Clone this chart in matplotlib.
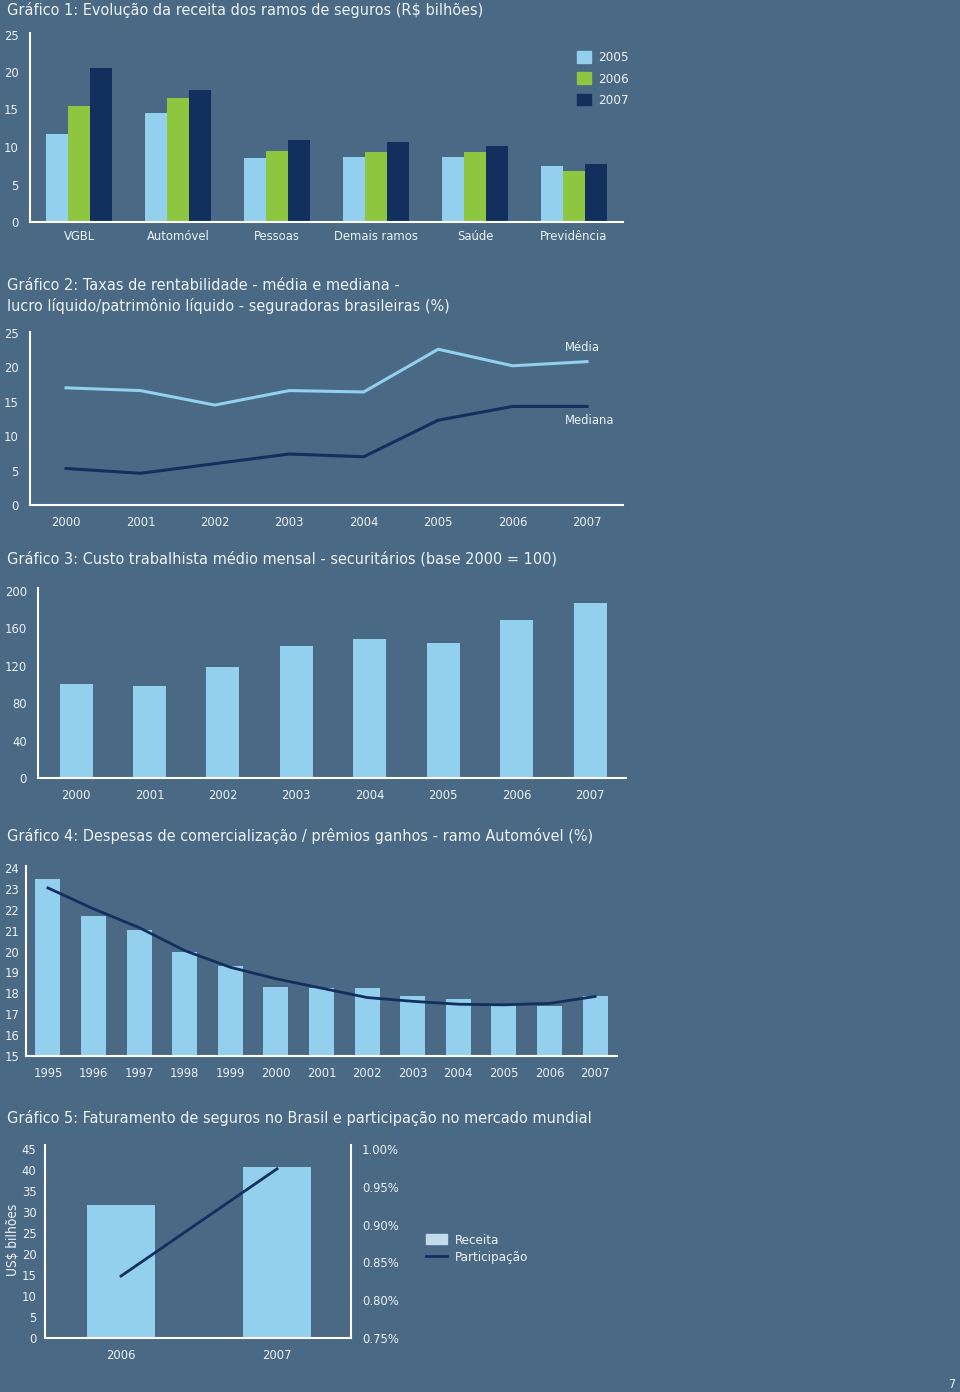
import numpy as np
import matplotlib.pyplot as plt
from matplotlib.patches import Patch
from matplotlib.lines import Line2D

plt.rcParams['font.family'] = ['DejaVu Sans']
plt.rcParams['font.stretch'] = 'condensed'

# ---- data ----
ramos = ['VGBL', 'Automóvel', 'Pessoas', 'Demais ramos', 'Saúde', 'Previdência']
anos1 = ['2005', '2006', '2007']
rec2005 = [11.7, 14.5, 8.5, 8.7, 8.7, 7.5]
rec2006 = [15.5, 16.5, 9.5, 9.3, 9.3, 6.8]
rec2007 = [20.5, 17.6, 10.9, 10.7, 10.2, 7.8]

anos2 = ['2000', '2001', '2002', '2003', '2004', '2005', '2006', '2007']
media = [17.0, 16.6, 14.5, 16.6, 16.4, 22.6, 20.2, 20.8]
mediana = [5.3, 4.6, 6.0, 7.4, 7.0, 12.3, 14.3, 14.3]

anos3 = ['2000', '2001', '2002', '2003', '2004', '2005', '2006', '2007']
custo = [100, 98, 119, 141, 148, 144, 169, 187]

anos4 = ['1995', '1996', '1997', '1998', '1999', '2000', '2001', '2002',
         '2003', '2004', '2005', '2006', '2007']
despesas = [23.5, 21.7, 21.05, 20.0, 19.3, 18.3, 18.25, 18.25, 17.85, 17.75, 17.45, 17.4, 17.85]
tendencia = [23.05, 22.05, 21.15, 20.05, 19.25, 18.7, 18.25, 17.8, 17.62, 17.48, 17.45, 17.52, 17.85]

anos5 = ['2006', '2007']
receita5 = [31.6, 40.8]
particip = [0.832, 0.974]

# ---- style ----
bg = '#4a6985'
light = '#92d0ee'
green = '#8dc63f'
navy = '#12305e'
txt = '#eef3f7'
W, H = 960, 1392
fs = 9.3
tfs = 11.6

fig = plt.figure(figsize=(W / 100, H / 100), dpi=100, facecolor=bg)


def rect(l, t, r, b):
    return [l / W, 1 - b / H, (r - l) / W, (b - t) / H]


def style(ax):
    ax.set_facecolor(bg)
    for s in ['top', 'right']:
        ax.spines[s].set_visible(False)
    for s in ['left', 'bottom']:
        ax.spines[s].set_color('white')
        ax.spines[s].set_linewidth(1.5)
    ax.tick_params(length=0, colors=txt, labelsize=fs, pad=8)


def title(y, s):
    fig.text(7 / W, 1 - y / H, s, color=txt, fontsize=tfs, va='center', ha='left')


# Grafico 1
title(10, 'Gráfico 1: Evolução da receita dos ramos de seguros (R$ bilhões)')
ax1 = fig.add_axes(rect(30, 33, 623, 222))
style(ax1)
x = np.arange(len(ramos))
w = 0.222
ax1.bar(x - w, rec2005, w, color=light)
ax1.bar(x, rec2006, w, color=green)
ax1.bar(x + w, rec2007, w, color=navy)
ax1.set_xlim(-0.495, 5.495)
ax1.set_ylim(0, 25.2)
ax1.set_yticks([0, 5, 10, 15, 20, 25])
ax1.set_xticks(x)
ax1.set_xticklabels(ramos)
ax1.tick_params(axis='x', pad=6)
ax1.legend(handles=[Patch(color=c, label=l) for c, l in zip([light, green, navy], anos1)],
           loc='upper left', bbox_to_anchor=(565 / W, 1 - 39 / H), bbox_transform=fig.transFigure,
           frameon=False, handlelength=1.05, handleheight=0.95, handletextpad=0.5,
           labelspacing=0.6, labelcolor=txt, fontsize=9.6)

# Grafico 2
fig.text(7 / W, 1 - 285 / H, 'Gráfico 2: Taxas de rentabilidade - média e mediana -',
         color=txt, fontsize=tfs, va='center')
fig.text(7 / W, 1 - 306 / H, 'lucro líquido/patrimônio líquido - seguradoras brasileiras (%)',
         color=txt, fontsize=tfs, va='center')
ax2 = fig.add_axes(rect(30, 332, 623, 505))
style(ax2)
x2 = np.arange(len(anos2))
ax2.plot(x2, media, color=light, lw=2.2)
ax2.plot(x2, mediana, color=navy, lw=2.2)
ax2.set_xlim(-0.484, 7.484)
ax2.set_ylim(0, 25.1)
ax2.set_yticks([0, 5, 10, 15, 20, 25])
ax2.set_xticks(x2)
ax2.set_xticklabels(anos2)
ax2.text(6.94, 22.8, 'Média', color=txt, fontsize=fs, ha='center', va='center')
ax2.text(7.03, 12.3, 'Mediana', color=txt, fontsize=fs, ha='center', va='center')

# Grafico 3
title(559, 'Gráfico 3: Custo trabalhista médio mensal - securitários (base 2000 = 100)')
ax3 = fig.add_axes(rect(38, 588, 626, 778))
style(ax3)
x3 = np.arange(len(anos3))
ax3.bar(x3, custo, 0.45, color=light)
ax3.set_xlim(-0.518, 7.49)
ax3.set_ylim(0, 203)
ax3.set_yticks([0, 40, 80, 120, 160, 200])
ax3.set_xticks(x3)
ax3.set_xticklabels(anos3)

# Grafico 4
title(836, 'Gráfico 4: Despesas de comercialização / prêmios ganhos - ramo Automóvel (%)')
ax4 = fig.add_axes(rect(26, 866, 617, 1056))
style(ax4)
ax4.tick_params(axis='y', pad=5)
x4 = np.arange(len(anos4))
ax4.bar(x4, np.array(despesas) - 15, 0.55, bottom=15, color=light)
ax4.plot(x4, tendencia, color=navy, lw=2)
ax4.set_xlim(-0.48, 12.48)
ax4.set_ylim(15, 24.1)
ax4.set_yticks(range(15, 25))
ax4.set_xticks(x4)
ax4.set_xticklabels(anos4)

# Grafico 5
title(1118, 'Gráfico 5: Faturamento de seguros no Brasil e participação no mercado mundial')
ax5 = fig.add_axes(rect(45, 1145, 351, 1338))
style(ax5)
ax5.tick_params(axis='y', pad=6)
x5 = np.arange(len(anos5))
ax5.bar(x5, receita5, 0.44, color=light)
ax5.set_xlim(-0.487, 1.474)
ax5.set_ylim(0, 46)
ax5.set_yticks(range(0, 46, 5))
ax5.set_xticks(x5)
ax5.set_xticklabels(anos5)
ax5.set_ylabel('US$ bilhões', color=txt, fontsize=fs + 0.5)
ax5.yaxis.set_label_coords(20 / W, 1 - 1240 / H, transform=fig.transFigure)
ax5b = ax5.twinx()
ax5b.plot(x5, particip, color=navy, lw=2)
ax5b.set_ylim(0.75, 0.75 + 0.25 * 46 / 45)
ax5b.set_yticks([0.75, 0.80, 0.85, 0.90, 0.95, 1.00])
ax5b.set_yticklabels(['0.75%', '0.80%', '0.85%', '0.90%', '0.95%', '1.00%'])
for s in ['top', 'left', 'bottom']:
    ax5b.spines[s].set_visible(False)
ax5b.spines['right'].set_color('white')
ax5b.spines['right'].set_linewidth(1.5)
ax5b.tick_params(length=0, colors=txt, labelsize=fs, pad=8)
ax5.legend(handles=[Patch(color='#c3dcec', label='Receita'),
                    Line2D([], [], color=navy, lw=2, label='Participação')],
           loc='upper left', bbox_to_anchor=(414 / W, 1 - 1222 / H), bbox_transform=fig.transFigure,
           frameon=False, handlelength=1.6, handleheight=0.8, handletextpad=0.6,
           labelspacing=0.3, labelcolor=txt, fontsize=9.6)

fig.text(952 / W, 1 - 1384 / H, '7', color=txt, fontsize=9, ha='center', va='center')

fig.savefig('out.png', dpi=100, facecolor=bg)
